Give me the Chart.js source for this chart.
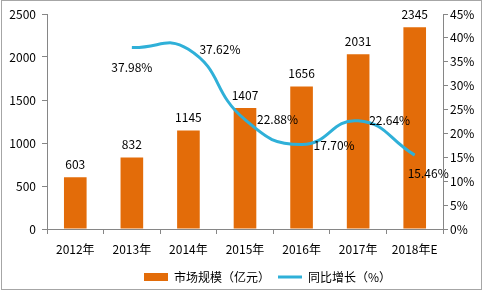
<!DOCTYPE html>
<html>
<head>
<meta charset="utf-8">
<script src="https://cdn.jsdelivr.net/npm/chart.js@4.4.1/dist/chart.umd.min.js"></script>
<style>
  html, body { margin: 0; padding: 0; background: #fff; }
  canvas { display: block; }
</style>
</head>
<body>
<canvas id="c" width="483" height="291" style="width:483px;height:291px"></canvas>
<script>
const years = ["2012年", "2013年", "2014年", "2015年", "2016年", "2017年", "2018年E"];
const marketSize = [603, 832, 1145, 1407, 1656, 2031, 2345];
const growthRate = [null, 37.98, 37.62, 22.88, 17.70, 22.64, 15.46];
const leftTicks = [0, 500, 1000, 1500, 2000, 2500];
const rightTicks = [0, 5, 10, 15, 20, 25, 30, 35, 40, 45];

const FONT = '"Noto Sans CJK SC", "DejaVu Sans", sans-serif';
const AXIS = "#868686";
const BAR = "#e36c09";
const LINE = "#2fb0d8";

// label offsets for the growth line (dx, dy from point)
const lineLabelPos = [null, [0, 20], [11, 0], [12, 0], [12, 1], [11, 0], [-7, 18]];

const labelsPlugin = {
  id: "labels",
  afterLayout(chart) {
    // legend sits a bit right of centre and slightly lower in the original
    const lg = chart.legend;
    if (lg) { lg.left += 26; lg.right += 26; lg.top += 2; lg.bottom += 2; }
  },
  beforeDraw(chart) {
    const ctx = chart.ctx;
    ctx.save();
    ctx.fillStyle = "#fff";
    ctx.fillRect(0, 0, chart.width, chart.height);
    ctx.strokeStyle = "#a6a6a6";
    ctx.lineWidth = 1;
    ctx.strokeRect(1.5, 0.5, chart.width - 3, chart.height - 2);
    ctx.restore();
  },
  afterDatasetsDraw(chart) {
    const ctx = chart.ctx;
    ctx.save();
    ctx.font = "12px " + FONT;
    ctx.fillStyle = "#000";
    ctx.textBaseline = "bottom";
    ctx.textAlign = "center";
    chart.getDatasetMeta(0).data.forEach((bar, i) => {
      ctx.fillText(String(marketSize[i]), bar.x, bar.y - 7);
    });
    ctx.textBaseline = "middle";
    chart.getDatasetMeta(1).data.forEach((pt, i) => {
      const pos = lineLabelPos[i];
      if (!pos || growthRate[i] == null) return;
      const txt = growthRate[i].toFixed(2) + "%";
      ctx.textAlign = pos[0] === 0 ? "center" : "left";
      ctx.fillText(txt, pt.x + pos[0], pt.y + pos[1]);
    });
    ctx.restore();
  }
};

new Chart(document.getElementById("c"), {
  type: "bar",
  data: {
    labels: years,
    datasets: [
      {
        label: "市场规模（亿元）",
        data: marketSize,
        backgroundColor: BAR,
        yAxisID: "y",
        barPercentage: 0.4,
        categoryPercentage: 1,
        order: 2
      },
      {
        type: "line",
        label: "同比增长（%）",
        data: growthRate,
        borderColor: LINE,
        backgroundColor: LINE,
        borderWidth: 3,
        pointRadius: 0,
        tension: 0.5,
        yAxisID: "y1",
        order: 1
      }
    ]
  },
  options: {
    responsive: false,
    animation: false,
    devicePixelRatio: 1,
    layout: { padding: { top: 14, left: 0, right: 0, bottom: 0 } },
    plugins: {
      tooltip: { enabled: false },
      legend: {
        position: "bottom",
        labels: {
          font: { size: 12, family: FONT },
          color: "#000",
          usePointStyle: true,
          pointStyleWidth: 24,
          boxHeight: 8,
          padding: 8,
          generateLabels(chart) {
            return [
              { text: "市场规模（亿元）", fillStyle: BAR, strokeStyle: BAR, lineWidth: 0, pointStyle: "rect", datasetIndex: 0 },
              { text: "同比增长（%）", fillStyle: LINE, strokeStyle: LINE, lineWidth: 3, pointStyle: "line", datasetIndex: 1 }
            ];
          }
        }
      }
    },
    scales: {
      x: {
        grid: { display: true, drawOnChartArea: false, color: AXIS, tickLength: 5, offset: true },
        border: { color: AXIS },
        ticks: { color: "#000", font: { size: 12, family: FONT }, padding: 8, maxRotation: 0 },
        afterFit(s) { s.height = 32; }
      },
      y: {
        position: "left",
        min: 0, max: 2500,
        afterBuildTicks(s) { s.ticks = leftTicks.map(v => ({ value: v })); },
        grid: { display: true, drawOnChartArea: false, color: AXIS, tickLength: 5 },
        border: { color: AXIS },
        ticks: { color: "#000", font: { size: 12, family: FONT }, padding: 6, callback: v => String(v) },
        afterFit(s) { s.width = 47; }
      },
      y1: {
        position: "right",
        min: 0, max: 45,
        afterBuildTicks(s) { s.ticks = rightTicks.map(v => ({ value: v })); },
        grid: { display: true, drawOnChartArea: false, color: AXIS, tickLength: 5 },
        border: { color: AXIS },
        ticks: { color: "#000", font: { size: 12, family: FONT }, padding: 2, callback: v => v + "%" },
        afterFit(s) { s.width = 40; }
      }
    }
  },
  plugins: [labelsPlugin]
});
</script>
</body>
</html>
